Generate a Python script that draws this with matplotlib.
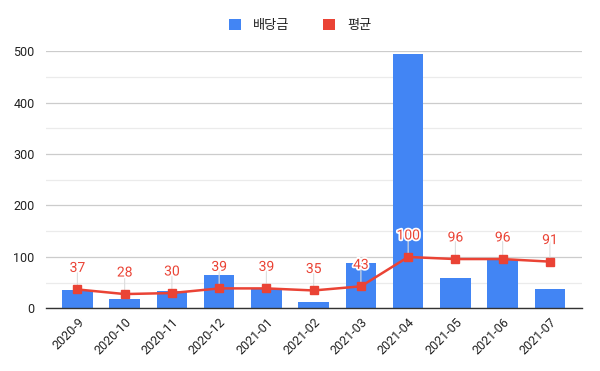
import matplotlib
matplotlib.use("Agg")
import matplotlib.pyplot as plt
import matplotlib.patheffects as pe
from matplotlib.patches import Patch
import numpy as np

plt.rcParams['font.family'] = ['Roboto', 'Noto Sans CJK KR', 'DejaVu Sans']

categories = ["2020-9", "2020-10", "2020-11", "2020-12", "2021-01", "2021-02",
              "2021-03", "2021-04", "2021-05", "2021-06", "2021-07"]
dividends = [36, 18, 33, 65, 38, 13, 89, 494, 60, 95, 37]
averages = [37, 28, 30, 39, 39, 35, 43, 100, 96, 96, 91]
series_names = ["배당금", "평균"]

BLUE = "#4285F4"
RED = "#EA4335"

fig = plt.figure(figsize=(6.0, 3.71), dpi=100)
ax = fig.add_axes([0.076, 0.1685, 0.8935, 0.694])

x = np.arange(len(categories))
ax.bar(x, dividends, width=0.645, color=BLUE, zorder=2)
ax.plot(x, averages, color=RED, lw=1.8, marker='s', markersize=5.5, zorder=3)

for xi, v in zip(x, averages):
    ax.annotate("", xy=(xi, v), xytext=(0, 16), textcoords='offset points',
                arrowprops=dict(arrowstyle='-', color='#dddddd', lw=0.8,
                                shrinkA=0, shrinkB=0), zorder=2.5)
    ax.annotate(str(v), xy=(xi, v), xytext=(0, 15.5), textcoords='offset points',
                ha='center', va='center', fontsize=10, color=RED, zorder=4,
                path_effects=[pe.withStroke(linewidth=2.5, foreground='white')])

ax.set_xlim(-0.673, len(categories) - 1 + 0.673)
ax.set_ylim(0, 500)
ax.set_yticks([0, 100, 200, 300, 400, 500])
ax.set_yticks([50, 150, 250, 350, 450], minor=True)
ax.grid(axis='y', which='major', color='#cccccc', lw=0.9, zorder=0)
ax.grid(axis='y', which='minor', color='#ebebeb', lw=0.9, zorder=0)
ax.set_axisbelow(True)

ax.set_xticks(x)
ax.set_xticklabels(categories, rotation=45, ha='right', rotation_mode='anchor',
                   fontsize=9, color='#222222')
ax.tick_params(axis='x', length=0, pad=5)
ax.tick_params(axis='y', which='both', length=0, labelsize=9, labelcolor='#222222', pad=8)

for s in ['top', 'right', 'left']:
    ax.spines[s].set_visible(False)
ax.spines['bottom'].set_color('#333333')
ax.spines['bottom'].set_linewidth(1.0)
ax.spines['bottom'].set_zorder(5)

handles = [Patch(facecolor=BLUE, edgecolor='none'), Patch(facecolor=RED, edgecolor='none')]
leg = fig.legend(handles, series_names, loc='center', bbox_to_anchor=(0.5, 0.932),
                 ncol=2, frameon=False, fontsize=9.5, handlelength=0.9, handleheight=0.9,
                 handletextpad=0.9, columnspacing=2.6)
for t in leg.get_texts():
    t.set_color('#222222')

fig.savefig("out.png", dpi=100)
